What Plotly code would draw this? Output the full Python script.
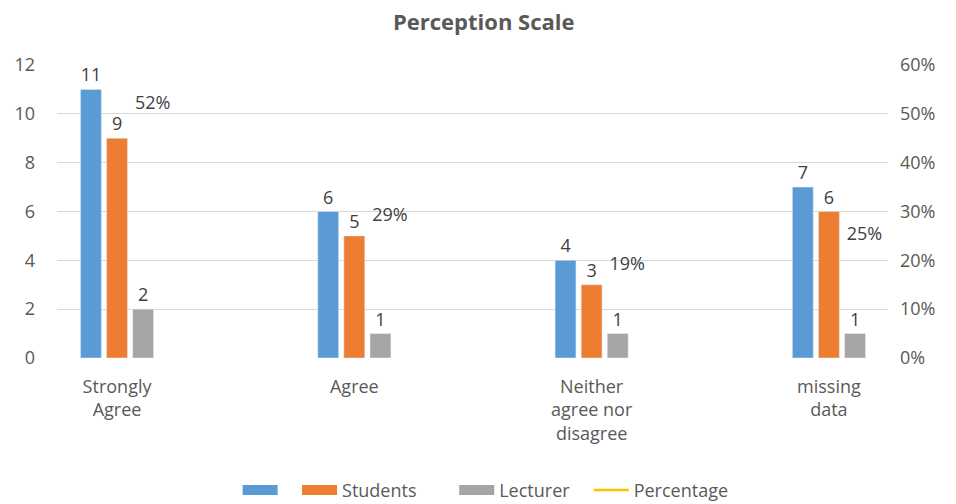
import plotly.graph_objects as go

# Survey responses per perception level
categories = ["Strongly<br>Agree", "Agree", "Neither<br>agree nor<br>disagree", "missing<br>data"]
total_values = [11, 6, 4, 7]
student_values = [9, 5, 3, 6]
lecturer_values = [2, 1, 1, 1]
percentage_values = [0.52, 0.29, 0.19, 0.25]

FONT = "Open Sans"
LABEL = "#404040"
AXIS = "#595959"
BLUE, ORANGE, GRAY, YELLOW = "#5B9BD5", "#ED7D31", "#A5A5A5", "#FFC000"
NBSP = "\u00a0"

fig = go.Figure()

for vals, color in [(total_values, BLUE), (student_values, ORANGE), (lecturer_values, GRAY)]:
    fig.add_trace(go.Bar(
        x=categories, y=vals, marker_color=color, showlegend=False,
        text=vals, textposition="outside", cliponaxis=False,
        textfont=dict(family=FONT, size=18, color=LABEL),
    ))

# Percentage series: labels only on the secondary axis
fig.add_trace(go.Scatter(
    x=categories, y=percentage_values, yaxis="y2", mode="markers+text",
    marker=dict(size=27, opacity=0), showlegend=False, cliponaxis=False,
    text=[f"{round(v * 100)}%" for v in percentage_values],
    textposition="middle right",
    textfont=dict(family=FONT, size=18, color=LABEL),
))

# Legend entries: wide swatches for the bars, a thin line for the percentage
legend_items = [
    (NBSP * 2, BLUE, 10),
    ("Students" + NBSP * 7, ORANGE, 10),
    ("Lecturer" + NBSP * 3, GRAY, 10),
    ("Percentage", YELLOW, 2.5),
]
for name, color, width in legend_items:
    fig.add_trace(go.Scatter(
        x=[None], y=[None], mode="lines", name=name,
        line=dict(color=color, width=width),
    ))

fig.update_layout(
    width=956, height=504,
    margin=dict(l=57, r=68, t=65, b=146),
    paper_bgcolor="white", plot_bgcolor="white",
    font=dict(family=FONT, size=18, color=AXIS),
    title=dict(text="<b>Perception Scale</b>", x=0.506, xref="container",
               xanchor="center", y=0.955, yref="container", yanchor="middle",
               font=dict(family=FONT, size=22, color=AXIS)),
    barmode="group", bargap=0.67, bargroupgap=0.2,
    xaxis=dict(range=[-0.253, 3.249], showgrid=False, showline=False,
               ticks="", ticklabelstandoff=16, tickfont=dict(size=18, color=AXIS)),
    yaxis=dict(range=[0, 12], dtick=2, gridcolor="#D9D9D9", gridwidth=1,
               zeroline=False, showline=False, ticks="", ticklabelstandoff=21,
               tickfont=dict(size=18, color=AXIS)),
    yaxis2=dict(range=[0, 0.6], dtick=0.1, tickformat=".0%", overlaying="y",
                side="right", showgrid=False, zeroline=False, showline=False,
                ticks="", ticklabelstandoff=11, tickfont=dict(size=18, color=AXIS)),
    legend=dict(orientation="h", xref="container", x=0.508, xanchor="center",
                yref="container", y=0.027, yanchor="middle",
                font=dict(family=FONT, size=18, color=AXIS),
                itemwidth=35, traceorder="normal"),
)

fig.write_html("out.html")
